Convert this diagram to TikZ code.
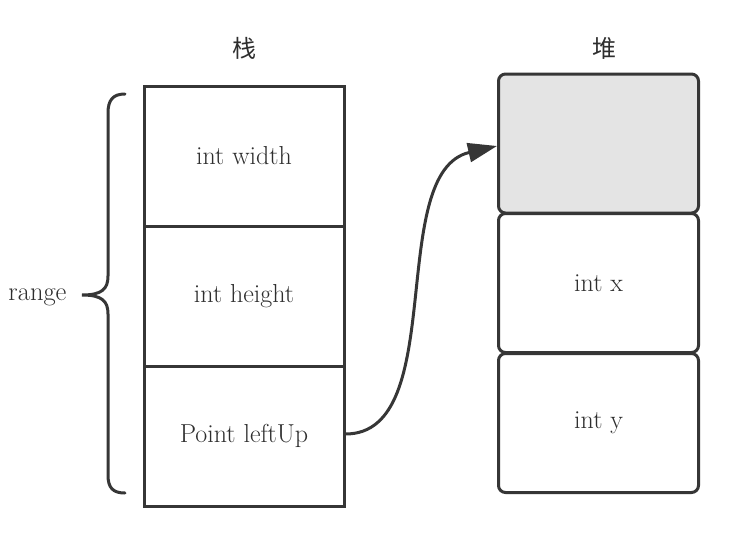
\documentclass[tikz,border=0pt]{standalone}
\usepackage{fontspec}
\newfontfamily\cjk{Noto Sans CJK SC}
\usetikzlibrary{arrows.meta}
\definecolor{ln}{HTML}{363636}
\definecolor{tx}{HTML}{2E2E2E}
\definecolor{hf}{HTML}{E4E4E4}
\tikzset{
  cell/.style={draw=ln, line width=3pt, minimum width=200pt, minimum height=140pt, inner sep=0pt, text=tx, font=\fontsize{26}{30}\selectfont},
  hcell/.style={cell, rounded corners=7pt, minimum height=139pt},
  title/.style={text=tx, font=\cjk\fontsize{24}{28}\selectfont},
  lbl/.style={text=tx, font=\fontsize{26.5}{30}\selectfont},
  conn/.style={draw=ln, line width=3pt, -{Triangle[length=29pt,width=19pt]}},
  brace/.style={draw=ln, line width=3pt, line cap=round}
}
\begin{document}
\begin{tikzpicture}[x=1pt,y=-1pt]
\useasboundingbox[fill=white] (0,0) rectangle (744,546);
% stack
\node[cell] (s1) at (244,156) {int width};
\node[cell] (s2) at (244,296) {int height};
\node[cell] (s3) at (244,436) {Point leftUp};
% heap
\node[hcell, fill=hf] (h1) at (598.5,143.5) {};
\node[hcell] (h2) at (598.5,283) {int x};
\node[hcell] (h3) at (598.5,423) {int y};
% titles
\node[title] (t1) at (244,48) {栈};
\node[title] (t2) at (604,48) {堆};
% brace
\coordinate (bt) at (125,94);
\coordinate (bm) at (82,295);
\coordinate (bb) at (125,493);
\path[brace] (bt) .. controls (113,94) and (108,100) .. (108,113)
  -- (108,276) .. controls (108,289) and (102,295) .. (bm)
  .. controls (102,295) and (108,301) .. (108,314)
  -- (108,475) .. controls (108,488) and (113,493) .. (bb);
\node[lbl, anchor=east] (rg) at (70,297) {range};
% arrow
\draw[conn] (s3.east |- 0,434) .. controls (450,434) and (385,172) .. (h1.west |- 0,146);
\end{tikzpicture}
\end{document}
